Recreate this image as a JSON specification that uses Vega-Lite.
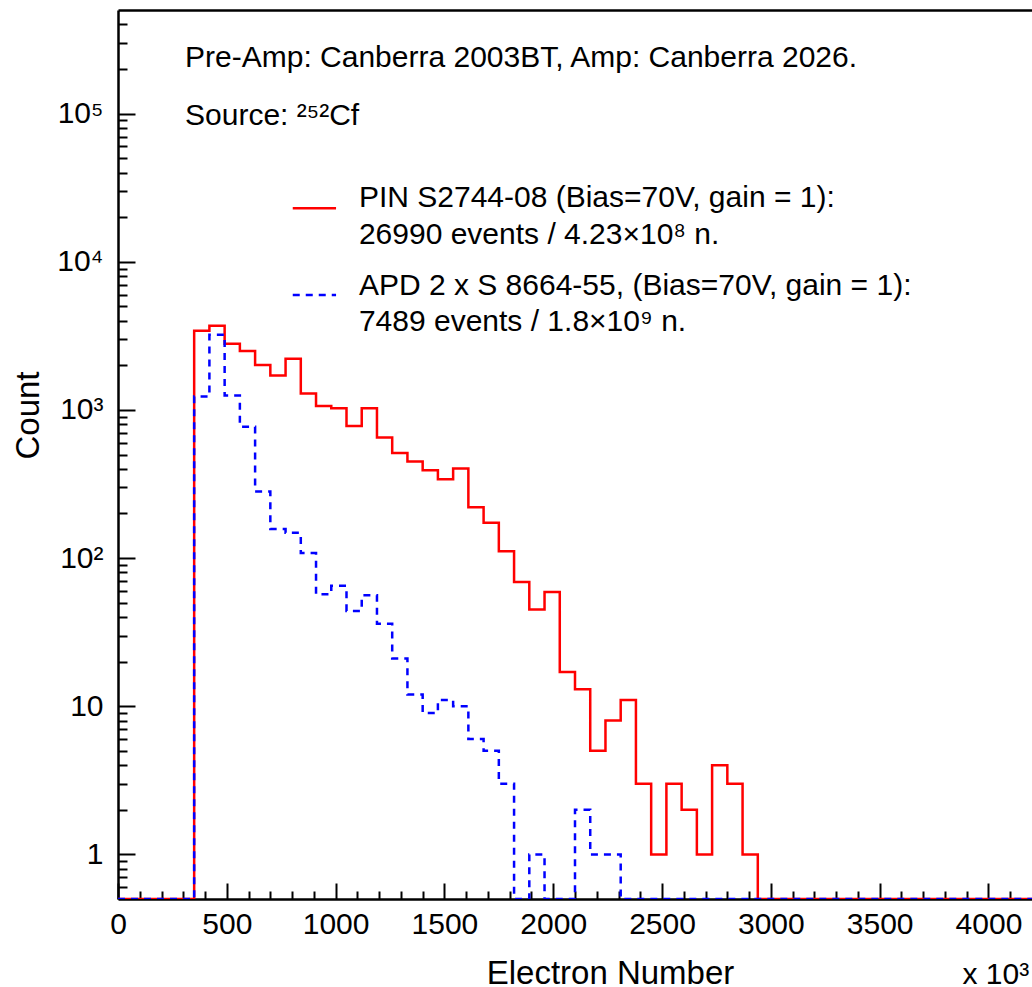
{
  "$schema": "https://vega.github.io/schema/vega-lite/v6.json",
  "width": 914,
  "height": 889,
  "autosize": {"type": "none"},
  "padding": {"left": 118, "top": 10, "right": 0, "bottom": 88},
  "background": "white",
  "config": {
    "view": {"stroke": null},
    "font": "Liberation Sans",
    "axis": {"grid": false, "domainColor": "black", "tickColor": "black", "labelColor": "black", "titleColor": "black", "labelFont": "Liberation Sans", "titleFont": "Liberation Sans", "titleFontWeight": "normal"}
  },
  "datasets": {
    "pin": [
      {"electrons": 0, "count": 0}, {"electrons": 70, "count": 0}, {"electrons": 140, "count": 0}, {"electrons": 210, "count": 0}, {"electrons": 280, "count": 0},
      {"electrons": 350, "count": 3420}, {"electrons": 420, "count": 3700}, {"electrons": 490, "count": 2790}, {"electrons": 560, "count": 2500}, {"electrons": 630, "count": 2010},
      {"electrons": 700, "count": 1705}, {"electrons": 770, "count": 2210}, {"electrons": 840, "count": 1288}, {"electrons": 910, "count": 1064}, {"electrons": 980, "count": 1026},
      {"electrons": 1050, "count": 780}, {"electrons": 1120, "count": 1026}, {"electrons": 1190, "count": 652}, {"electrons": 1260, "count": 512}, {"electrons": 1330, "count": 448},
      {"electrons": 1400, "count": 391}, {"electrons": 1470, "count": 340}, {"electrons": 1540, "count": 402}, {"electrons": 1610, "count": 220}, {"electrons": 1680, "count": 173},
      {"electrons": 1750, "count": 111}, {"electrons": 1820, "count": 69}, {"electrons": 1890, "count": 45}, {"electrons": 1960, "count": 59}, {"electrons": 2030, "count": 17},
      {"electrons": 2100, "count": 13}, {"electrons": 2170, "count": 5}, {"electrons": 2240, "count": 8}, {"electrons": 2310, "count": 11}, {"electrons": 2380, "count": 3},
      {"electrons": 2450, "count": 1}, {"electrons": 2520, "count": 3}, {"electrons": 2590, "count": 2}, {"electrons": 2660, "count": 1}, {"electrons": 2730, "count": 4},
      {"electrons": 2800, "count": 3}, {"electrons": 2870, "count": 1}, {"electrons": 2940, "count": 0}, {"electrons": 3010, "count": 0}, {"electrons": 3080, "count": 0},
      {"electrons": 3150, "count": 0}, {"electrons": 3220, "count": 0}, {"electrons": 3290, "count": 0}, {"electrons": 3360, "count": 0}, {"electrons": 3430, "count": 0},
      {"electrons": 3500, "count": 0}, {"electrons": 3570, "count": 0}, {"electrons": 3640, "count": 0}, {"electrons": 3710, "count": 0}, {"electrons": 3780, "count": 0},
      {"electrons": 3850, "count": 0}, {"electrons": 3920, "count": 0}, {"electrons": 3990, "count": 0}, {"electrons": 4060, "count": 0}, {"electrons": 4130, "count": 0},
      {"electrons": 4200, "count": 0}
    ],
    "apd": [
      {"electrons": 0, "count": 0}, {"electrons": 70, "count": 0}, {"electrons": 140, "count": 0}, {"electrons": 210, "count": 0}, {"electrons": 280, "count": 0},
      {"electrons": 350, "count": 1230}, {"electrons": 420, "count": 3210}, {"electrons": 490, "count": 1250}, {"electrons": 560, "count": 771}, {"electrons": 630, "count": 281},
      {"electrons": 700, "count": 157}, {"electrons": 770, "count": 148}, {"electrons": 840, "count": 108}, {"electrons": 910, "count": 57}, {"electrons": 980, "count": 65},
      {"electrons": 1050, "count": 44}, {"electrons": 1120, "count": 56}, {"electrons": 1190, "count": 36}, {"electrons": 1260, "count": 21}, {"electrons": 1330, "count": 12},
      {"electrons": 1400, "count": 9}, {"electrons": 1470, "count": 11}, {"electrons": 1540, "count": 10}, {"electrons": 1610, "count": 6}, {"electrons": 1680, "count": 5},
      {"electrons": 1750, "count": 3}, {"electrons": 1820, "count": 0}, {"electrons": 1890, "count": 1}, {"electrons": 1960, "count": 0}, {"electrons": 2030, "count": 0},
      {"electrons": 2100, "count": 2}, {"electrons": 2170, "count": 1}, {"electrons": 2240, "count": 1}, {"electrons": 2310, "count": 0}, {"electrons": 2380, "count": 0},
      {"electrons": 2450, "count": 0}, {"electrons": 2520, "count": 0}, {"electrons": 2590, "count": 0}, {"electrons": 2660, "count": 0}, {"electrons": 2730, "count": 0},
      {"electrons": 2800, "count": 0}, {"electrons": 2870, "count": 0}, {"electrons": 2940, "count": 0}, {"electrons": 3010, "count": 0}, {"electrons": 3080, "count": 0},
      {"electrons": 3150, "count": 0}, {"electrons": 3220, "count": 0}, {"electrons": 3290, "count": 0}, {"electrons": 3360, "count": 0}, {"electrons": 3430, "count": 0},
      {"electrons": 3500, "count": 0}, {"electrons": 3570, "count": 0}, {"electrons": 3640, "count": 0}, {"electrons": 3710, "count": 0}, {"electrons": 3780, "count": 0},
      {"electrons": 3850, "count": 0}, {"electrons": 3920, "count": 0}, {"electrons": 3990, "count": 0}, {"electrons": 4060, "count": 0}, {"electrons": 4130, "count": 0},
      {"electrons": 4200, "count": 0}
    ],
    "notes": [
      {"electrons": 308, "count": 206000, "text": "Pre-Amp: Canberra 2003BT, Amp: Canberra 2026."},
      {"electrons": 308, "count": 83700, "text": "Source: ²⁵²Cf"},
      {"electrons": 1107, "count": 23400, "text": "PIN S2744-08 (Bias=70V, gain = 1):"},
      {"electrons": 1107, "count": 13170, "text": "26990 events / 4.23×10⁸ n."},
      {"electrons": 1107, "count": 5963, "text": "APD 2 x S 8664-55, (Bias=70V, gain = 1):"},
      {"electrons": 1107, "count": 3407, "text": "7489 events / 1.8×10⁹ n."}
    ],
    "keys": [
      {"series": "PIN", "electrons": 803, "electrons_end": 1002, "count": 22940},
      {"series": "APD", "electrons": 803, "electrons_end": 1002, "count": 5963}
    ]
  },
  "layer": [
    {
      "data": {"name": "pin"},
      "mark": {"type": "line", "interpolate": "step-after", "color": "#ff0000", "strokeWidth": 2.5, "clip": true},
      "encoding": {
        "x": {
          "field": "electrons", "type": "quantitative",
          "scale": {"domain": [0, 4200], "nice": false, "zero": false},
          "axis": {
            "orient": "bottom", "values": [0, 500, 1000, 1500, 2000, 2500, 3000, 3500, 4000], "format": "d",
            "tickSize": -16, "tickWidth": 2, "domainWidth": 2.5, "labelFontSize": 30, "labelPadding": 26, "labelFlush": false, "labelOverlap": false,
            "title": "Electron Number", "titleFontSize": 33, "titleX": 492, "titleY": 84, "titleAlign": "center", "titleBaseline": "alphabetic"
          }
        },
        "y": {
          "field": "count", "type": "quantitative",
          "scale": {"type": "log", "domain": [0.5, 500000], "nice": false, "clamp": true},
          "axis": {
            "orient": "left", "values": [1, 10, 100, 1000, 10000, 100000],
            "labelExpr": "datum.value == 1 ? '1' : datum.value == 10 ? '10' : datum.value == 100 ? '10²' : datum.value == 1000 ? '10³' : datum.value == 10000 ? '10⁴' : '10⁵'",
            "tickSize": -17, "tickWidth": 2, "domainWidth": 2.5, "labelFontSize": 30, "labelPadding": 32, "labelFlush": false, "labelOverlap": false,
            "title": "Count", "titleFontSize": 33, "titleX": -80, "titleY": 405, "titleAlign": "center", "titleBaseline": "alphabetic", "titleAngle": 270
          }
        }
      }
    },
    {
      "data": {"name": "apd"},
      "mark": {"type": "line", "interpolate": "step-after", "color": "#0000ff", "strokeWidth": 2.5, "strokeDash": [7, 6], "clip": true},
      "encoding": {
        "x": {
          "field": "electrons", "type": "quantitative",
          "scale": {"domain": [0, 4200], "nice": false, "zero": false},
          "axis": {
            "orient": "bottom",
            "values": [100, 200, 300, 400, 600, 700, 800, 900, 1100, 1200, 1300, 1400, 1600, 1700, 1800, 1900, 2100, 2200, 2300, 2400, 2600, 2700, 2800, 2900, 3100, 3200, 3300, 3400, 3600, 3700, 3800, 3900, 4100],
            "tickSize": -8, "tickWidth": 2, "domain": false, "labels": false,
            "title": "x 10³", "titleFontSize": 30, "titleX": 844, "titleY": 84, "titleAlign": "left", "titleBaseline": "alphabetic"
          }
        },
        "y": {
          "field": "count", "type": "quantitative",
          "scale": {"type": "log", "domain": [0.5, 500000], "nice": false, "clamp": true},
          "axis": {
            "orient": "left",
            "values": [0.6, 0.7, 0.8, 0.9, 2, 3, 4, 5, 6, 7, 8, 9, 20, 30, 40, 50, 60, 70, 80, 90, 200, 300, 400, 500, 600, 700, 800, 900, 2000, 3000, 4000, 5000, 6000, 7000, 8000, 9000, 20000, 30000, 40000, 50000, 60000, 70000, 80000, 90000, 200000, 300000, 400000],
            "tickSize": -9, "tickWidth": 2, "domain": false, "labels": false, "title": null
          }
        }
      }
    },
    {
      "data": {"name": "notes"},
      "mark": {"type": "text", "align": "left", "baseline": "alphabetic", "fontSize": 30, "font": "Liberation Sans", "color": "black"},
      "encoding": {
        "x": {
          "field": "electrons", "type": "quantitative",
          "scale": {"domain": [0, 4200], "nice": false, "zero": false},
          "axis": {"orient": "top", "domain": true, "domainWidth": 2.5, "ticks": false, "labels": false, "title": null}
        },
        "y": {
          "field": "count", "type": "quantitative",
          "scale": {"type": "log", "domain": [0.5, 500000], "nice": false, "clamp": true},
          "axis": null
        },
        "text": {"field": "text"}
      }
    },
    {
      "data": {"name": "keys"},
      "mark": {"type": "rule", "strokeWidth": 2.5},
      "encoding": {
        "x": {"field": "electrons", "type": "quantitative", "scale": {"domain": [0, 4200], "nice": false, "zero": false}, "axis": null},
        "x2": {"field": "electrons_end"},
        "y": {"field": "count", "type": "quantitative", "scale": {"type": "log", "domain": [0.5, 500000], "nice": false, "clamp": true}, "axis": null},
        "color": {"field": "series", "type": "nominal", "scale": {"domain": ["PIN", "APD"], "range": ["#ff0000", "#0000ff"]}, "legend": null},
        "strokeDash": {"field": "series", "type": "nominal", "scale": {"domain": ["PIN", "APD"], "range": [[1, 0], [7, 6]]}, "legend": null}
      }
    }
  ],
  "resolve": {"axis": {"x": "independent", "y": "independent"}}
}
